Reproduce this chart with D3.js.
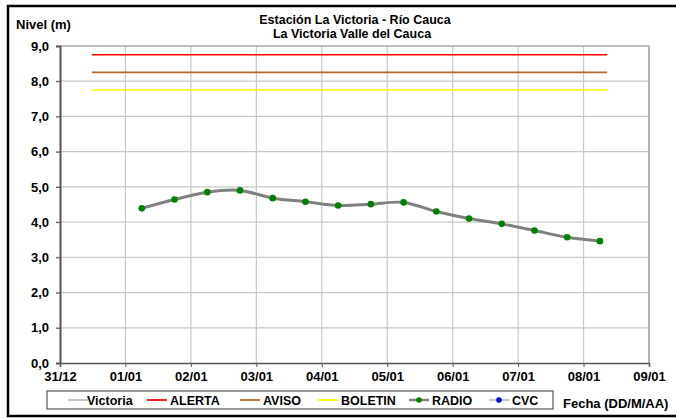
<!DOCTYPE html>
<html lang="es">
<head>
<meta charset="utf-8">
<script src="https://d3js.org/d3.v7.min.js"></script>
<style>
  body { margin: 0; background: #fff; }
  svg text { font-family: "Liberation Sans", Arial, sans-serif; font-weight: bold; fill: #000; }
</style>
</head>
<body>
<div id="chart"></div>
<script>
"use strict"
// datos
var fechas = ["2020-01-01 06:00", "2020-01-01 18:00", "2020-01-02 06:00", "2020-01-02 18:00",
              "2020-01-03 06:00", "2020-01-03 18:00", "2020-01-04 06:00", "2020-01-04 18:00",
              "2020-01-05 06:00", "2020-01-05 18:00", "2020-01-06 06:00", "2020-01-06 18:00",
              "2020-01-07 06:00", "2020-01-07 18:00", "2020-01-08 06:00"];
var nivelRadio = [4.39, 4.64, 4.85, 4.90, 4.68, 4.58, 4.47, 4.51, 4.56, 4.30, 4.10, 3.95, 3.76, 3.57, 3.46];
var umbralInicio = "2019-12-31 11:40", umbralFin = "2020-01-08 08:40";
var umbrales = [["ALERTA", 8.75], ["AVISO", 8.25], ["BOLETIN", 7.75]];
var diasEje = ["2019-12-31", "2020-01-01", "2020-01-02", "2020-01-03", "2020-01-04",
               "2020-01-05", "2020-01-06", "2020-01-07", "2020-01-08", "2020-01-09"];
var ticksY = [0, 1, 2, 3, 4, 5, 6, 7, 8, 9];
var series = ["Victoria", "ALERTA", "AVISO", "BOLETIN", "RADIO", "CVC"];

var colores = { Victoria: "#c0c0c0", ALERTA: "#ff0000", AVISO: "#b4692e", BOLETIN: "#ffff00", RADIO: "#808080", CVC: "#c0c0c0" };

var W = 676, H = 419;
var margin = { top: 46, left: 60, right: 27, bottom: 56 };
var larguraVis = W - margin.left - margin.right,
    alturaVis = H - margin.top - margin.bottom;

var parse = d3.timeParse("%Y-%m-%d %H:%M");
var parseDia = d3.timeParse("%Y-%m-%d");

var svg = d3.select("#chart").append("svg").attr("width", W).attr("height", H);

// borde exterior
svg.append("rect").attr("x", 8).attr("y", 6).attr("width", W + 10).attr("height", 410)
  .attr("fill", "none").attr("stroke", "#000").attr("stroke-width", 2.5);

var g = svg.append("g").attr("transform", "translate(" + margin.left + "," + margin.top + ")");

var x = d3.scaleTime()
  .domain([parseDia(diasEje[0]), parseDia(diasEje[diasEje.length - 1])])
  .range([0, larguraVis]);
var y = d3.scaleLinear().domain([0, 9]).range([alturaVis, 0]);

// grilla
g.selectAll(".gx").data(diasEje.slice(1)).enter().append("line")
  .attr("x1", d => x(parseDia(d))).attr("x2", d => x(parseDia(d)))
  .attr("y1", 0).attr("y2", alturaVis)
  .attr("stroke", "#c8c8c8").attr("stroke-width", 1.2);
g.selectAll(".gy").data(ticksY.slice(1)).enter().append("line")
  .attr("x1", -4).attr("x2", larguraVis)
  .attr("y1", d => y(d)).attr("y2", d => y(d))
  .attr("stroke", "#c8c8c8").attr("stroke-width", 1.2);

// marco superior y derecho
g.append("path").attr("d", "M0,0H" + larguraVis + "V" + alturaVis)
  .attr("fill", "none").attr("stroke", "#9a9a9a").attr("stroke-width", 1.2);

// eje y
var ejeY = g.append("g")
  .call(d3.axisLeft(y).tickValues(ticksY).tickSize(4).tickPadding(7)
    .tickFormat(d => d3.format(".1f")(d).replace(".", ",")));
ejeY.select(".domain").attr("stroke", "#555").attr("stroke-width", 2);
ejeY.selectAll(".tick line").attr("stroke", "#555");
ejeY.selectAll("text").style("font-size", "13px").attr("font-family", null);

// eje x
var ejeX = g.append("g").attr("transform", "translate(0," + alturaVis + ")")
  .call(d3.axisBottom(x).tickValues(diasEje.map(parseDia)).tickSize(4).tickPadding(5)
    .tickFormat(d3.timeFormat("%d/%m")));
ejeX.select(".domain").attr("stroke", "#555").attr("stroke-width", 1.5);
ejeX.selectAll(".tick line").attr("stroke", "#555");
ejeX.selectAll("text").style("font-size", "13px").attr("font-family", null);

// umbrales
g.selectAll(".umbral").data(umbrales).enter().append("line")
  .attr("x1", x(parse(umbralInicio))).attr("x2", x(parse(umbralFin)))
  .attr("y1", d => y(d[1])).attr("y2", d => y(d[1]))
  .attr("stroke", d => colores[d[0]]).attr("stroke-width", 1.6);

// serie RADIO
var datos = fechas.map((f, i) => ({ t: parse(f), v: nivelRadio[i] }));
g.append("path").datum(datos)
  .attr("d", d3.line().x(d => x(d.t)).y(d => y(d.v)).curve(d3.curveCatmullRom.alpha(0.5)))
  .attr("fill", "none").attr("stroke", "#808080").attr("stroke-width", 3);
g.selectAll(".pt").data(datos).enter().append("circle")
  .attr("cx", d => x(d.t)).attr("cy", d => y(d.v)).attr("r", 3.3)
  .attr("fill", "#008000");

// titulos
svg.append("text").attr("x", 355).attr("y", 24).attr("text-anchor", "middle")
  .style("font-size", "12.5px").text("Estación La Victoria - Río Cauca");
svg.append("text").attr("x", 352).attr("y", 38).attr("text-anchor", "middle")
  .style("font-size", "12.5px").text("La Victoria Valle del Cauca");
svg.append("text").attr("x", 16).attr("y", 29).style("font-size", "13px").text("Nivel (m)");
svg.append("text").attr("x", 563).attr("y", 408).style("font-size", "13px").text("Fecha (DD/M/AA)");

// leyenda
var leg = svg.append("g");
leg.append("rect").attr("x", 47).attr("y", 391).attr("width", 506).attr("height", 18)
  .attr("fill", "#fff").attr("stroke", "#555").attr("stroke-width", 1.2);
var legX = [68, 147, 240, 318, 409, 489];
var item = leg.selectAll(".item").data(series).enter().append("g")
  .attr("transform", (d, i) => "translate(" + legX[i] + ",400)");
item.append("line").attr("x1", 0).attr("x2", 20).attr("y1", 0).attr("y2", 0)
  .attr("stroke", d => colores[d]).attr("stroke-width", d => d === "RADIO" ? 2.5 : 1.8);
item.filter(d => d === "RADIO" || d === "CVC").append("circle")
  .attr("cx", 10).attr("cy", 0).attr("r", 2.8)
  .attr("fill", d => d === "RADIO" ? "#008000" : "#0000ff");
item.append("text").attr("x", d => d === "Victoria" ? 19 : 23).attr("y", 4.5)
  .style("font-size", "12.5px").text(d => d);
</script>
</body>
</html>
